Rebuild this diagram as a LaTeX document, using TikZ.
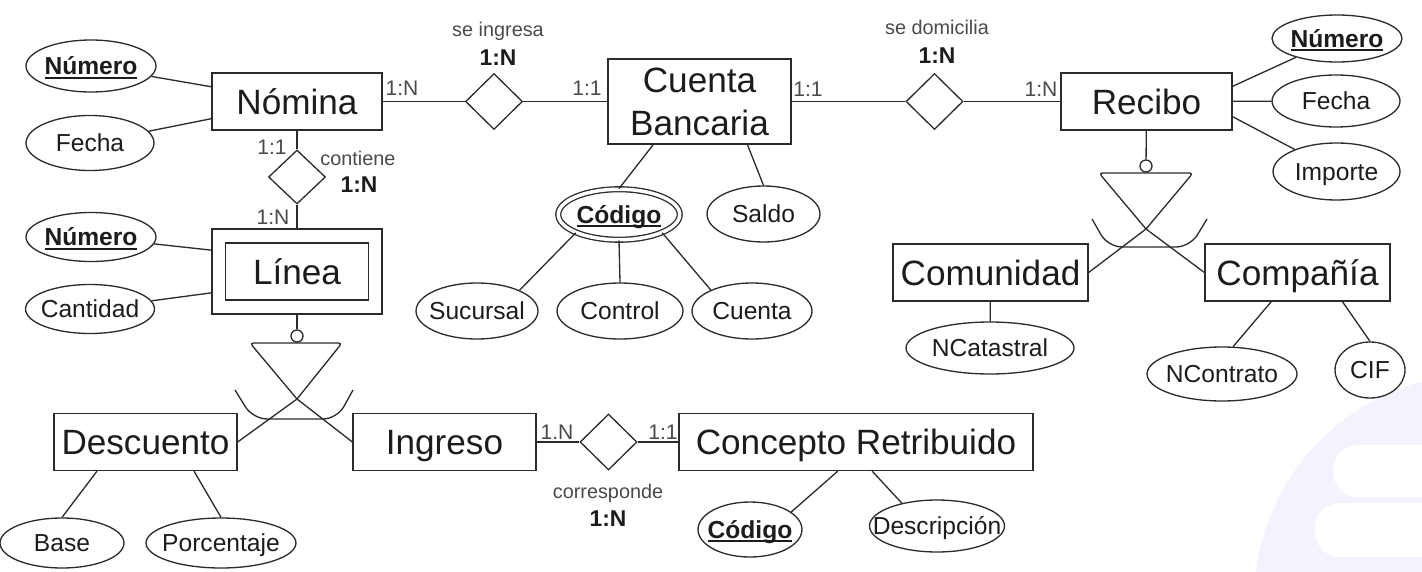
\documentclass[tikz,border=0pt]{standalone}
\usepackage{fontspec}
\setmainfont{Liberation Sans}
\usetikzlibrary{shapes.geometric,positioning}

\definecolor{trazo}{HTML}{2B2B2B}
\definecolor{tinta}{HTML}{1C1C1C}
\definecolor{gris}{HTML}{4A4A4A}
\definecolor{lila}{HTML}{F4F2FD}

\newcommand\entfont{\fontsize{20}{24}\selectfont}
\newcommand\atrfont{\fontsize{14}{16}\selectfont}
\newcommand\cardfont{\fontsize{12}{14}\selectfont}
\newcommand\relfont{\fontsize{11.3}{13}\selectfont}
\newcommand\rcardfont{\fontsize{13}{15}\selectfont\bfseries}

\newsavebox\clavebox
\newcommand\clave[1]{\sbox\clavebox{\textbf{#1}}\usebox\clavebox\llap{\rule[-2.2pt]{\wd\clavebox}{1pt}}}

\begin{document}
\begin{tikzpicture}[x=0.02cm,y=-0.02cm,line width=0.75pt,color=trazo,
  ent/.style={draw,rectangle,inner sep=0pt,font=\entfont,text=tinta,text height=14.3pt,text depth=0pt},
  rel/.style={draw,diamond,inner sep=0pt,minimum width=1.14cm,minimum height=1.12cm},
  atr/.style={draw,ellipse,inner xsep=-14pt,inner ysep=0pt,font=\atrfont,text=tinta,text height=10pt,text depth=0pt},
  card/.style={font=\cardfont,text=gris,inner sep=0pt,text height=8.6pt,text depth=0pt},
  rname/.style={font=\relfont,text=gris,inner sep=0pt,text height=5.9pt,text depth=0pt},
  rcard/.style={font=\rcardfont,text=tinta,inner sep=0pt,text height=9.3pt,text depth=0pt},
  isa/.style={draw,circle,inner sep=0pt,minimum size=0.24cm}]
\useasboundingbox (0,0) rectangle (1422,571);
\begin{scope}
\clip (0,0) rectangle (1422,571);
\fill[lila] (1480,600) circle (4.52cm);
\fill[white,rounded corners=0.5cm] (1333,445) rectangle (1460,497);
\fill[white,rounded corners=0.5cm] (1315,503) rectangle (1460,557);
\end{scope}

% entidades
\node[ent,minimum width=3.4cm,minimum height=1.14cm] (nomina) at (297,101.5) {Nómina};
\node[ent,minimum width=3.66cm,minimum height=1.7cm,align=center,text height=38.3pt] (cuenta) at (699.5,101.5) {Cuenta\\Bancaria};
\node[ent,minimum width=3.42cm,minimum height=1.14cm] (recibo) at (1146.5,101.5) {Recibo};
\node[ent,minimum width=3.4cm,minimum height=1.7cm] (linea) at (297,271.5) {};
\node[ent,minimum width=2.86cm,minimum height=1.14cm] (lineaint) at (linea) {Línea};
\node[ent,minimum width=3.9cm,minimum height=1.14cm] (comunidad) at (990.5,272.5) {Comunidad};
\node[ent,minimum width=3.7cm,minimum height=1.14cm] (compania) at (1297.5,272.5) {Compañía};
\node[ent,minimum width=3.66cm,minimum height=1.14cm] (descuento) at (145.5,442) {Descuento};
\node[ent,minimum width=3.66cm,minimum height=1.14cm] (ingreso) at (444.5,442) {Ingreso};
\node[ent,minimum width=7.08cm,minimum height=1.14cm] (concepto) at (856,442) {Concepto Retribuido};

% relaciones
\node[rel] (ingresa) at (494,101.5) {};
\node[rel,minimum height=1.08cm] (contiene) at (297,177) {};
\node[rel] (domicilia) at (934.5,101.5) {};
\node[rel] (corresponde) at (608.5,442) {};

% atributos
\node[atr,minimum width=2.6cm,minimum height=1.04cm] (numnom) at (91,66) {\clave{Número}};
\node[atr,minimum width=2.56cm,minimum height=1.1cm] (fechanom) at (90,143) {Fecha};
\node[atr,minimum width=2.6cm,minimum height=0.98cm] (numlin) at (91,237) {\clave{Número}};
\node[atr,minimum width=2.58cm,minimum height=0.98cm] (cantidad) at (90,309) {Cantidad};
\node[atr,double,double distance=2pt,minimum width=2.43cm,minimum height=1.01cm] (codigo) at (619,214.5) {\clave{Código}};
\node[atr,minimum width=2.26cm,minimum height=1.12cm] (saldo) at (763.5,214) {Saldo};
\node[atr,minimum width=2.44cm,minimum height=1.12cm] (sucursal) at (477,311) {Sucursal};
\node[atr,minimum width=2.52cm,minimum height=1.12cm] (control) at (620,311) {Control};
\node[atr,minimum width=2.4cm,minimum height=1.12cm] (cuentanum) at (752,311) {Cuenta};
\node[atr,minimum width=2.6cm,minimum height=0.94cm] (numrec) at (1337,38.5) {\clave{Número}};
\node[atr,minimum width=2.56cm,minimum height=1.04cm] (fecharec) at (1336,101) {Fecha};
\node[atr,minimum width=2.54cm,minimum height=1.14cm] (importe) at (1336.5,171.5) {Importe};
\node[atr,minimum width=3.36cm,minimum height=1.04cm] (ncatastral) at (990,348) {NCatastral};
\node[atr,minimum width=3.0cm,minimum height=1.08cm] (ncontrato) at (1222,374) {NContrato};
\node[atr,minimum width=1.4cm,minimum height=1.12cm] (cif) at (1370,370) {CIF};
\node[atr,minimum width=2.48cm,minimum height=1.0cm] (base) at (62,543) {Base};
\node[atr,minimum width=3.0cm,minimum height=1.0cm] (porcentaje) at (221,543) {Porcentaje};
\node[atr,minimum width=2.08cm,minimum height=1.1cm] (codigocon) at (750,529.5) {\clave{Código}};
\node[atr,minimum width=2.7cm,minimum height=1.04cm] (descripcion) at (937,526) {Descripción};

% conectores
\draw (numnom) -- (nomina);
\draw (fechanom) -- (nomina);
\draw (nomina) -- (ingresa) -- (cuenta) -- (domicilia) -- (recibo);
\draw (nomina) -- (contiene) -- (linea);
\draw (ingreso) -- (corresponde) -- (concepto);
\draw (numlin) -- (linea.166);
\draw (cantidad) -- (linea.194);
\draw (cuenta.-137) -- (codigo.north);
\draw (cuenta.-42) -- (saldo.north);
\draw (codigo.-157) -- (sucursal.26);
\draw (codigo.south) -- (control.north);
\draw (codigo.-23) -- (cuentanum.153);
\draw (recibo.10) -- (numrec);
\draw (recibo) -- (fecharec);
\draw (recibo.-10) -- (importe);
\draw (comunidad) -- (ncatastral);
\draw (compania.-132) -- (ncontrato.68);
\draw (compania.-33) -- (cif.north);
\draw (descuento.-149) -- (base.north);
\draw (descuento.-31) -- (porcentaje.north);
\draw (concepto.-122) -- (codigocon.23);
\draw (concepto.-61) -- (descripcion.147);

% jerarquias
\node[isa] (isalin) at (297,336) {};
\coordinate (vlin) at (297,399);
\draw (linea) -- (isalin);
\draw[rounded corners=2pt] (vlin) -- (250,343) -- (342,343) [sharp corners] -- cycle;
\draw (vlin) -- (descuento.east);
\draw (vlin) -- (ingreso.west);
\draw[rounded corners=0.28cm] (235,390) -- (253,419) -- (337,419) -- (353,390);

\node[isa] (isarec) at (1146,166) {};
\coordinate (vrec) at (1146,229);
\draw (recibo) -- (isarec);
\draw[rounded corners=2pt] (vrec) -- (1099,173) -- (1193,173) [sharp corners] -- cycle;
\draw (vrec) -- (comunidad.east);
\draw (vrec) -- (compania.west);
\draw[rounded corners=0.28cm] (1092,219) -- (1108,247) -- (1190,247) -- (1207,219);

% cardinalidades
\foreach \nm/\px/\py/\tx in {cnomi/402/88/1:N, ccuei/587/88/1:1, ccued/808/89/1:1, crecd/1041/89/1:N,
  cnomc/272/147/1:1, clinc/273/217/1:N, cingc/557/432/1.N, cconc/663/432/1:1}
  \node[card] (\nm) at (\px,\py) {\tx};

\node[rname] (tingresa) at (498,31) {se ingresa};
\node[rcard] (kingresa) at (498,57) {1:N};
\node[rname] (tcontiene) at (358,160) {contiene};
\node[rcard] (kcontiene) at (359,184) {1:N};
\node[rname] (tdomicilia) at (937,29) {se domicilia};
\node[rcard] (kdomicilia) at (937,55) {1:N};
\node[rname] (tcorresp) at (608,493) {corresponde};
\node[rcard] (kcorresp) at (608,518) {1:N};
\end{tikzpicture}
\end{document}
